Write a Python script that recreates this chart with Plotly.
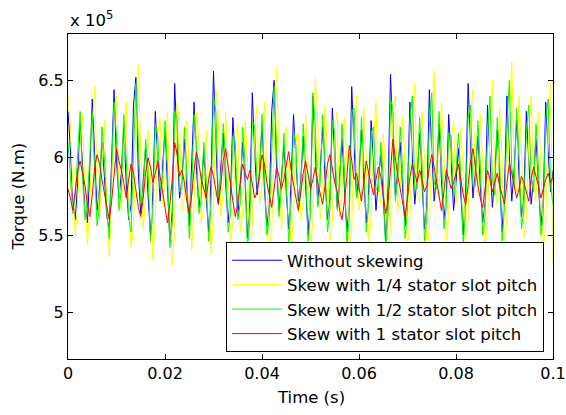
import numpy as np
import plotly.graph_objects as go

# Torque in units of 1e5 N.m, sampled every 0.5 ms from 0 to 0.1 s
without_skew = [
    6.30, 6.05, 5.72, 5.60, 5.84, 6.22, 5.95, 5.70, 5.58, 5.92,
    6.38, 6.02, 5.66, 5.80, 6.10, 5.88, 5.62, 5.54, 6.00, 6.44,
    5.98, 5.74, 5.90, 6.20, 5.84, 5.60, 5.70, 6.34, 6.52, 5.90,
    5.64, 5.86, 6.06, 5.76, 5.50, 5.78, 6.30, 6.00, 5.72, 5.94,
    6.18, 5.82, 5.46, 5.66, 6.48, 6.08, 5.74, 5.86, 6.12, 5.80,
    5.56, 5.96, 6.36, 5.92, 5.68, 5.82, 6.04, 5.74, 5.52, 5.88,
    6.56, 6.10, 5.70, 5.94, 6.16, 5.84, 5.58, 5.76, 6.26, 5.96,
    5.62, 5.80, 6.10, 5.86, 5.48, 5.72, 6.42, 6.02, 5.76, 5.92,
    6.22, 5.80, 5.56, 5.70, 6.30, 6.50, 5.94, 5.66, 5.88, 6.08,
    5.78, 5.54, 5.84, 6.28, 5.98, 5.72, 5.86, 6.14, 5.82, 5.50,
    5.76, 6.40, 6.04, 5.70, 5.92, 6.20, 5.86, 5.60, 5.74, 6.32,
    6.00, 5.68, 5.88, 6.12, 5.80, 5.52, 5.70, 6.46, 6.06, 5.74,
    5.90, 6.18, 5.84, 5.58, 5.80, 6.24, 5.96, 5.66, 5.86, 6.02,
    5.74, 5.46, 5.82, 6.54, 6.12, 5.76, 5.94, 6.10, 5.80, 5.56,
    5.78, 6.36, 6.00, 5.70, 5.88, 6.16, 5.84, 5.54, 5.72, 6.44,
    6.04, 5.72, 5.90, 6.22, 5.86, 5.60, 5.76, 6.28, 5.98, 5.66,
    5.84, 6.06, 5.76, 5.50, 5.80, 6.48, 6.08, 5.74, 5.92, 6.14,
    5.82, 5.58, 5.72, 6.34, 6.00, 5.68, 5.90, 6.18, 5.86, 5.52,
    5.80, 6.40, 6.02, 5.72, 5.94, 6.24, 5.88, 5.62, 5.76, 6.30,
    5.98, 5.70, 5.88, 6.12, 5.82, 5.56, 5.74, 6.36, 6.04, 5.78,
    5.92,
]

skew_quarter = [
    6.40, 6.22, 5.80, 5.50, 5.70, 6.10, 6.28, 5.76, 5.44, 5.68,
    6.20, 6.46, 5.84, 5.60, 5.96, 6.24, 5.70, 5.36, 5.80, 6.30,
    6.40, 5.82, 5.66, 6.06, 6.36, 5.74, 5.42, 5.56, 6.10, 6.60,
    6.02, 5.54, 5.74, 6.18, 5.90, 5.34, 5.60, 6.16, 6.26, 5.70,
    5.88, 6.30, 5.72, 5.30, 5.52, 6.36, 6.22, 5.66, 5.74, 6.24,
    5.92, 5.40, 5.70, 6.30, 6.10, 5.58, 5.68, 6.18, 5.84, 5.38,
    5.66, 6.44, 6.26, 5.62, 5.78, 6.30, 5.96, 5.44, 5.58, 6.10,
    6.22, 5.52, 5.64, 6.24, 6.00, 5.32, 5.56, 6.20, 6.34, 5.70,
    5.84, 6.36, 5.90, 5.42, 5.52, 6.12, 6.58, 6.06, 5.54, 5.74,
    6.20, 5.90, 5.36, 5.66, 6.12, 6.16, 5.60, 5.70, 6.28, 5.96,
    5.40, 5.60, 6.52, 6.24, 5.60, 5.78, 6.34, 6.02, 5.46, 5.58,
    6.18, 6.30, 5.62, 5.74, 6.26, 5.96, 5.38, 5.54, 6.22, 6.40,
    5.66, 5.76, 6.32, 6.00, 5.44, 5.62, 6.10, 6.36, 5.78, 5.70,
    6.16, 5.88, 5.30, 5.56, 6.34, 6.40, 5.66, 5.80, 6.26, 5.94,
    5.42, 5.60, 6.22, 6.48, 5.76, 5.72, 6.30, 6.00, 5.40, 5.54,
    6.12, 6.56, 5.86, 5.74, 6.36, 6.06, 5.46, 5.62, 6.12, 6.24,
    5.70, 5.90, 6.20, 5.92, 5.36, 5.60, 6.30, 6.44, 5.80, 5.76,
    6.28, 5.98, 5.44, 5.56, 6.16, 6.50, 5.84, 5.70, 6.32, 6.02,
    5.38, 5.64, 6.24, 6.62, 5.90, 5.78, 6.40, 6.06, 5.48, 5.60,
    6.14, 6.40, 5.84, 5.72, 6.30, 5.96, 5.42, 5.56, 6.20, 6.48,
    5.32,
]

skew_half = [
    6.10, 5.86, 5.64, 5.76, 6.04, 6.30, 5.86, 5.60, 5.74, 6.06,
    6.28, 5.90, 5.56, 5.70, 6.20, 6.00, 5.66, 5.48, 5.92, 6.36,
    6.14, 5.66, 5.80, 6.28, 6.00, 5.62, 5.52, 5.96, 6.48, 6.10,
    5.70, 5.76, 6.12, 5.94, 5.46, 5.66, 6.22, 6.14, 5.80, 5.84,
    6.24, 5.94, 5.42, 5.58, 6.30, 6.26, 5.78, 5.80, 6.20, 5.90,
    5.48, 5.76, 6.28, 6.08, 5.64, 5.74, 6.10, 5.86, 5.46, 5.70,
    6.40, 6.30, 5.74, 5.84, 6.22, 5.98, 5.52, 5.64, 6.14, 6.10,
    5.60, 5.70, 6.20, 5.96, 5.42, 5.60, 6.24, 6.20, 5.82, 5.86,
    6.28, 5.90, 5.50, 5.60, 6.06, 6.46, 6.08, 5.62, 5.80, 6.16,
    5.88, 5.44, 5.70, 6.18, 6.08, 5.66, 5.78, 6.22, 5.94, 5.46,
    5.64, 6.42, 6.20, 5.68, 5.84, 6.28, 5.98, 5.52, 5.66, 6.24,
    6.16, 5.66, 5.80, 6.22, 5.92, 5.44, 5.62, 6.30, 6.32, 5.74,
    5.82, 6.26, 5.96, 5.52, 5.70, 6.16, 6.20, 5.80, 5.78, 6.10,
    5.86, 5.40, 5.64, 6.38, 6.32, 5.72, 5.86, 6.20, 5.92, 5.48,
    5.66, 6.24, 6.40, 5.80, 5.80, 6.26, 5.96, 5.46, 5.62, 6.20,
    6.42, 5.84, 5.80, 6.30, 6.02, 5.54, 5.68, 6.16, 6.14, 5.74,
    5.92, 6.16, 5.88, 5.44, 5.66, 6.26, 6.34, 5.82, 5.82, 6.24,
    5.96, 5.50, 5.62, 6.12, 6.40, 5.86, 5.76, 6.26, 5.98, 5.46,
    5.68, 6.20, 6.50, 5.94, 5.82, 6.32, 6.02, 5.54, 5.66, 6.16,
    6.34, 5.86, 5.78, 6.22, 5.94, 5.50, 5.64, 6.24, 6.38, 5.82,
    5.70,
]

skew_one = [
    5.80, 5.74, 5.66, 5.78, 5.92, 5.98, 5.90, 5.82, 5.70, 5.62,
    5.76, 5.94, 6.02, 5.96, 5.86, 5.78, 5.68, 5.60, 5.72, 5.88,
    6.06, 5.98, 5.92, 5.84, 5.74, 5.86, 5.96, 5.90, 5.80, 5.68,
    5.62, 5.74, 5.90, 6.00, 5.94, 5.84, 5.90, 5.98, 5.88, 5.78,
    5.66, 5.58, 5.70, 5.86, 6.10, 6.02, 5.88, 5.92, 5.84, 5.72,
    5.64, 5.76, 5.92, 6.04, 5.96, 5.86, 5.80, 5.74, 5.86, 5.94,
    5.88, 5.78, 5.70, 5.82, 5.98, 6.06, 5.94, 5.84, 5.72, 5.62,
    5.70, 5.84, 5.96, 5.90, 5.86, 5.92, 5.82, 5.74, 5.78, 5.90,
    6.02, 5.96, 5.84, 5.76, 5.68, 5.80, 5.94, 5.88, 5.80, 5.86,
    5.96, 6.04, 5.92, 5.82, 5.74, 5.66, 5.78, 5.90, 5.98, 5.88,
    5.80, 5.86, 5.94, 5.84, 5.76, 5.70, 5.82, 5.96, 6.02, 5.92,
    5.84, 5.78, 5.66, 5.60, 5.72, 5.88, 6.08, 5.98, 5.86, 5.90,
    5.80, 5.72, 5.84, 5.98, 5.90, 5.82, 5.76, 5.86, 5.94, 5.88,
    5.76, 5.64, 5.72, 5.90, 6.12, 6.00, 5.88, 5.80, 5.70, 5.62,
    5.74, 5.88, 5.96, 5.90, 5.84, 5.92, 5.86, 5.78, 5.82, 5.94,
    6.02, 5.94, 5.84, 5.74, 5.66, 5.78, 5.92, 5.86, 5.80, 5.84,
    5.90, 5.96, 5.86, 5.76, 5.70, 5.82, 5.98, 6.06, 5.94, 5.82,
    5.74, 5.68, 5.80, 5.92, 5.86, 5.78, 5.84, 5.90, 5.82, 5.76,
    5.70, 5.84, 5.96, 5.90, 5.82, 5.74, 5.80, 5.88, 5.84, 5.78,
    5.72, 5.86, 5.94, 5.88, 5.82, 5.74, 5.80, 5.86, 5.90, 5.84,
    5.88,
]

series = [
    ("Without skewing", without_skew, "#0000ff"),
    ("Skew with 1/4 stator slot pitch", skew_quarter, "#ffff00"),
    ("Skew with 1/2 stator slot pitch", skew_half, "#00ff00"),
    ("Skew with 1 stator slot pitch", skew_one, "#ff0000"),
]

FONT = "DejaVu Sans"

fig = go.Figure()
for i, (name, vals, col) in enumerate(series):
    t = np.linspace(0, 0.1, len(vals))
    fig.add_trace(go.Scatter(x=t, y=vals, mode="lines", name=name,
                             line=dict(color=col, width=1),
                             legendgroup=f"g{i}"))

axis_common = dict(showline=True, linecolor="black", linewidth=1, mirror="ticks",
                   ticks="inside", ticklen=5, tickcolor="black", showgrid=False,
                   zeroline=False, tickfont=dict(family=FONT, size=16, color="black"))

fig.update_xaxes(range=[0, 0.1], dtick=0.02, tick0=0, **axis_common)
fig.update_yaxes(range=[4.7, 6.8], dtick=0.5, tick0=5, **axis_common)

fig.update_layout(
    width=566, height=415,
    margin=dict(l=68, r=13, t=34, b=56, autoexpand=False),
    paper_bgcolor="white", plot_bgcolor="white",
    showlegend=True,
    legend=dict(x=0.326, y=0.0215, xanchor="left", yanchor="bottom",
                bgcolor="white", bordercolor="black", borderwidth=1,
                font=dict(family=FONT, size=16.5, color="black"),
                tracegroupgap=0, itemwidth=50),
    annotations=[
        dict(text="Time (s)", xref="paper", yref="paper", x=0.5, y=-0.117,
             xanchor="center", yanchor="middle", showarrow=False,
             font=dict(family=FONT, size=16.5, color="black")),
        dict(text="Torque (N.m)", xref="paper", yref="paper", x=-0.103, y=0.5,
             xanchor="center", yanchor="middle", textangle=-90, showarrow=False,
             font=dict(family=FONT, size=16.5, color="black")),
        dict(text="x 10<sup>5</sup>", xref="paper", yref="paper", x=0, y=1,
             xanchor="left", yanchor="bottom", yshift=2, showarrow=False,
             font=dict(family=FONT, size=16.5, color="black")),
    ],
)

fig.write_html("out.html")
